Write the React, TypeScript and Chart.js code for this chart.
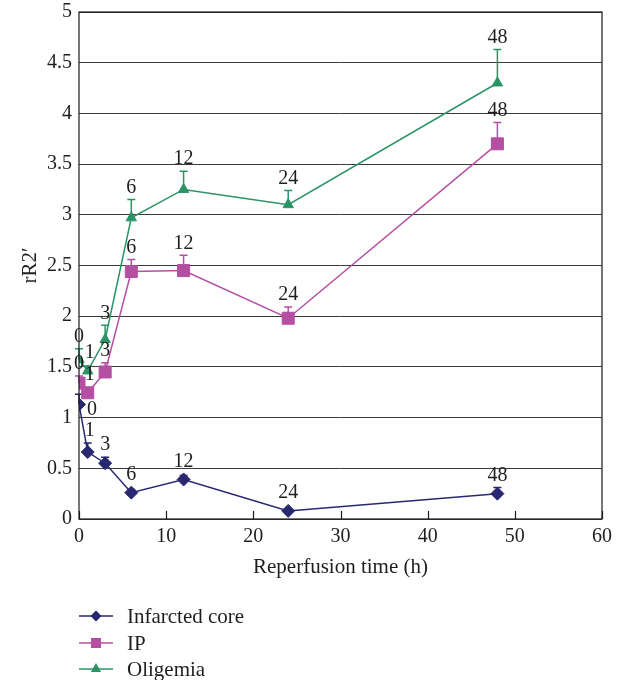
import React, { useEffect, useRef } from 'react';
import { Chart, registerables } from 'chart.js';
import { drawPoint } from 'chart.js/helpers';

Chart.register(...registerables);

const hours = [0, 1, 3, 6, 12, 24, 48];

const coreValues = [1.13, 0.66, 0.55, 0.26, 0.39, 0.08, 0.25];
const coreErrors = [0.1, 0.09, 0.06, 0.03, 0.04, 0.02, 0.06];

const ipValues = [1.34, 1.245, 1.45, 2.44, 2.45, 1.98, 3.7];
const ipErrors = [0.07, 0.03, 0.09, 0.12, 0.15, 0.11, 0.21];

const oligValues = [1.57, 1.46, 1.77, 2.97, 3.25, 3.1, 4.3];
const oligErrors = [0.11, 0.05, 0.14, 0.18, 0.18, 0.14, 0.33];

const seriesNames = ['Infarcted core', 'IP', 'Oligemia'];
const seriesColors = ['#28276f', '#b44fa2', '#2a9467'];

const FONT = "'Liberation Serif', 'Times New Roman', serif";
const TEXT = '#1e1e1e';

const errorSets = [coreErrors, ipErrors, oligErrors];

const framePlugin = {
  id: 'frame',
  afterDraw(chart: any) {
    const { ctx, chartArea } = chart;
    const xs = chart.scales.x;
    ctx.save();
    ctx.strokeStyle = '#1a1a1a';
    ctx.lineWidth = 1.2;
    ctx.strokeRect(chartArea.left, chartArea.top, chartArea.right - chartArea.left, chartArea.bottom - chartArea.top);
    ctx.beginPath();
    for (const t of xs.ticks) {
      const px = Math.round(xs.getPixelForValue(t.value)) + 0.5;
      ctx.moveTo(px, chartArea.bottom);
      ctx.lineTo(px, chartArea.bottom - 8);
    }
    ctx.stroke();
    ctx.restore();
  },
};

const errorPlugin = {
  id: 'errorBars',
  beforeDatasetsDraw(chart: any) {
    const { ctx } = chart;
    const ys = chart.scales.y;
    chart.data.datasets.forEach((ds: any, di: number) => {
      const meta = chart.getDatasetMeta(di);
      const errs = errorSets[di];
      ctx.save();
      ctx.strokeStyle = ds.borderColor;
      ctx.lineWidth = 1.5;
      meta.data.forEach((pt: any, i: number) => {
        const v = ds.data[i].y;
        const top = ys.getPixelForValue(v + errs[i]);
        ctx.beginPath();
        ctx.moveTo(pt.x, pt.y);
        ctx.lineTo(pt.x, top);
        ctx.moveTo(pt.x - 4, top);
        ctx.lineTo(pt.x + 4, top);
        ctx.stroke();
      });
      ctx.restore();
    });
  },
};

const labelPlugin = {
  id: 'pointLabels',
  afterDatasetsDraw(chart: any) {
    const { ctx } = chart;
    const ys = chart.scales.y;
    ctx.save();
    ctx.font = `20px ${FONT}`;
    ctx.fillStyle = TEXT;
    ctx.textAlign = 'center';
    chart.data.datasets.forEach((ds: any, di: number) => {
      const meta = chart.getDatasetMeta(di);
      const errs = errorSets[di];
      meta.data.forEach((pt: any, i: number) => {
        const text = String(hours[i]);
        if (di === 0 && i === 0) {
          ctx.textBaseline = 'middle';
          ctx.fillText(text, pt.x + 13, pt.y + 5);
          return;
        }
        const top = Math.min(ys.getPixelForValue(ds.data[i].y + errs[i]), pt.y - 6);
        ctx.textBaseline = 'bottom';
        ctx.fillText(text, pt.x + (i === 1 ? 2 : 0), top - 2);
      });
    });
    ctx.restore();
  },
};

const legendPlugin = {
  id: 'customLegend',
  afterDraw(chart: any) {
    const { ctx } = chart;
    const rows = [616, 643, 669];
    ctx.save();
    chart.data.datasets.forEach((ds: any, di: number) => {
      const y = rows[di];
      ctx.strokeStyle = ds.borderColor;
      ctx.lineWidth = 1.5;
      ctx.beginPath();
      ctx.moveTo(79, y);
      ctx.lineTo(113, y);
      ctx.stroke();
      ctx.fillStyle = ds.backgroundColor;
      drawPoint(ctx, { pointStyle: ds.pointStyle, radius: ds.pointStyle === 'rect' ? 6 : 4.5, rotation: 0, borderWidth: 1 }, 96, y);
      ctx.fillStyle = TEXT;
      ctx.font = `21px ${FONT}`;
      ctx.textAlign = 'left';
      ctx.textBaseline = 'middle';
      ctx.fillText(ds.label, 127, y + 1);
    });
    ctx.restore();
  },
};

export default function App() {
  const ref = useRef<HTMLCanvasElement | null>(null);

  useEffect(() => {
    document.body.style.margin = '0';
    const canvas = ref.current;
    if (!canvas) return;
    const valueSets = [coreValues, ipValues, oligValues];
    const styles = ['rectRot', 'rect', 'triangle'];
    const radii = [6.5, 8.5, 6];
    const chart = new Chart(canvas, {
      type: 'line',
      data: {
        datasets: valueSets.map((vals, di) => ({
          label: seriesNames[di],
          data: hours.map((h, i) => ({ x: h, y: vals[i] })),
          borderColor: seriesColors[di],
          backgroundColor: seriesColors[di],
          pointBackgroundColor: seriesColors[di],
          pointBorderColor: seriesColors[di],
          pointStyle: styles[di] as any,
          pointRadius: radii[di],
          pointBorderWidth: 1,
          borderWidth: 1.5,
          tension: 0,
          fill: false,
        })),
      },
      options: {
        responsive: false,
        animation: false,
        events: [],
        layout: { padding: { left: 0, right: 20, top: 12, bottom: 100 } },
        plugins: {
          legend: { display: false },
          tooltip: { enabled: false },
        },
        scales: {
          x: {
            type: 'linear',
            min: 0,
            max: 60,
            ticks: { stepSize: 10, color: TEXT, padding: 6, font: { family: FONT, size: 20 }, maxRotation: 0 },
            grid: { display: false, drawTicks: false },
            border: { display: false },
            title: {
              display: true,
              text: 'Reperfusion time (h)',
              color: TEXT,
              font: { family: FONT, size: 21 },
              padding: { top: 0, bottom: 0 },
            },
            afterFit(scale: any) {
              scale.height = 61;
              scale.paddingLeft = 0;
              scale.paddingRight = 0;
            },
          },
          y: {
            type: 'linear',
            min: 0,
            max: 5,
            ticks: {
              stepSize: 0.5,
              color: TEXT,
              padding: 7,
              font: { family: FONT, size: 20 },
              callback: (v: any) => String(Number(v)),
            },
            grid: { color: '#3a3a3a', lineWidth: 1, drawTicks: false },
            border: { display: false },
            title: {
              display: true,
              text: 'rR2\u2032',
              color: TEXT,
              font: { family: FONT, size: 21 },
              padding: { top: 18, bottom: 0 },
            },
            afterFit(scale: any) {
              scale.width = 79;
              scale.paddingTop = 0;
              scale.paddingBottom = 0;
            },
          },
        },
      },
      plugins: [framePlugin, errorPlugin, labelPlugin, legendPlugin],
    });
    return () => chart.destroy();
  }, []);

  return <canvas ref={ref} width={622} height={680} style={{ display: 'block', width: 622, height: 680 }} />;
}
